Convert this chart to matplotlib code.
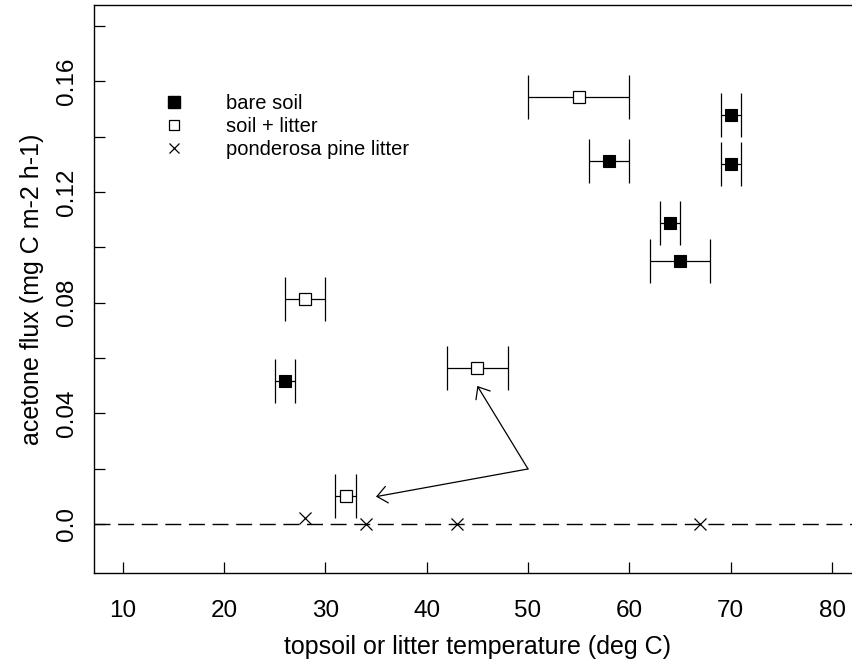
import matplotlib
matplotlib.use('Agg')
import matplotlib.pyplot as plt
from matplotlib.lines import Line2D

plt.rcParams['font.family'] = ['Liberation Sans', 'DejaVu Sans']

# ---- data ----
bare_x = [26, 58, 70, 70, 64, 65]
bare_y = [0.0517, 0.1314, 0.1479, 0.1302, 0.1087, 0.0952]
bare_xerr = [1, 2, 1, 1, 1, 3]

litter_x = [55, 28, 45, 32]
litter_y = [0.1542, 0.0815, 0.0563, 0.0101]
litter_xerr = [5, 2, 3, 1]

pine_x = [28, 34, 43, 67]
pine_y = [0.0021, 0.0, 0.0, 0.0]

arrow_tail = (50, 0.0199)
arrow_tip_x = [45, 35]
arrow_tip_y = [0.0499, 0.0099]

xticks = [10, 20, 30, 40, 50, 60, 70, 80]
yticks = [0.0, 0.02, 0.04, 0.06, 0.08, 0.10, 0.12, 0.14, 0.16, 0.18]
ytick_labels = ['0.0', '', '0.04', '', '0.08', '', '0.12', '', '0.16', '']
legend_labels = ['bare soil', 'soil + litter', 'ponderosa pine litter']
xlabel = 'topsoil or litter temperature (deg C)'
ylabel = 'acetone flux (mg C m-2 h-1)'

# ---- figure ----
W, H = 852, 671
fig = plt.figure(figsize=(W / 100, H / 100), dpi=100)
left, right, top, bottom = 94.3, 860.4, 5.1, 572.7
ax = fig.add_axes([left / W, 1 - bottom / H, (right - left) / W, (bottom - top) / H])
ax.set_xlim(7.2, 82.8)
ax.set_ylim(-0.0176, 0.1876)
for s in ax.spines.values():
    s.set_linewidth(1.0)
ax.spines['right'].set_visible(False)

# zero line
ax.axhline(0, color='black', lw=1.0, ls=(0, (11.5, 5.5)), zorder=1)

# error bars
ax.errorbar(bare_x, bare_y, xerr=bare_xerr, fmt='none', ecolor='black',
            elinewidth=0.9, capsize=15.5, capthick=0.9, zorder=2)
ax.errorbar(litter_x, litter_y, xerr=litter_xerr, fmt='none', ecolor='black',
            elinewidth=0.9, capsize=15.5, capthick=0.9, zorder=2)

# markers
ax.plot(bare_x, bare_y, ls='none', marker='s', ms=9.3, mfc='black', mec='black',
        mew=0.8, zorder=3)
ax.plot(litter_x, litter_y, ls='none', marker='s', ms=9.3, mfc='white', mec='black',
        mew=0.9, zorder=3)
ax.plot(pine_x, pine_y, ls='none', marker='x', ms=9.2, color='black', mew=0.9,
        zorder=3)

# arrows
for hx, hy in zip(arrow_tip_x, arrow_tip_y):
    ax.annotate('', xy=(hx, hy), xytext=arrow_tail,
                arrowprops=dict(arrowstyle='->,head_length=0.72,head_width=0.6',
                                mutation_scale=10, color='black', lw=0.9,
                                shrinkA=0, shrinkB=0))

# ticks
ax.set_xticks(xticks)
ax.set_xticklabels([str(t) for t in xticks])
ax.set_yticks(yticks)
ax.set_yticklabels(ytick_labels, rotation=90, va='center')
ax.tick_params(axis='both', direction='in', length=8, width=0.9, labelsize=17.5)
ax.tick_params(axis='x', pad=19.5)
ax.tick_params(axis='y', pad=11.5)

ax.set_xlabel(xlabel, fontsize=18, labelpad=9.5)
ax.set_ylabel(ylabel, fontsize=18, labelpad=8.6)

# legend
handles = [
    Line2D([], [], ls='none', marker='s', ms=8, mfc='black', mec='black'),
    Line2D([], [], ls='none', marker='s', ms=7.5, mfc='white', mec='black', mew=0.9),
    Line2D([], [], ls='none', marker='x', ms=7.5, color='black', mew=0.9),
]
fs = 14.5
fs_px = fs * 100 / 72
leg = ax.legend(handles, legend_labels, loc='upper left',
                bbox_to_anchor=((174 - fs_px / 2) / W, 1 - 94 / H),
                bbox_transform=fig.transFigure, frameon=False, fontsize=fs,
                borderpad=0, borderaxespad=0, handlelength=1.0,
                handletextpad=(226 - 174 - fs_px / 2) / fs_px, labelspacing=0.2)

fig.savefig('out.png', dpi=100)
